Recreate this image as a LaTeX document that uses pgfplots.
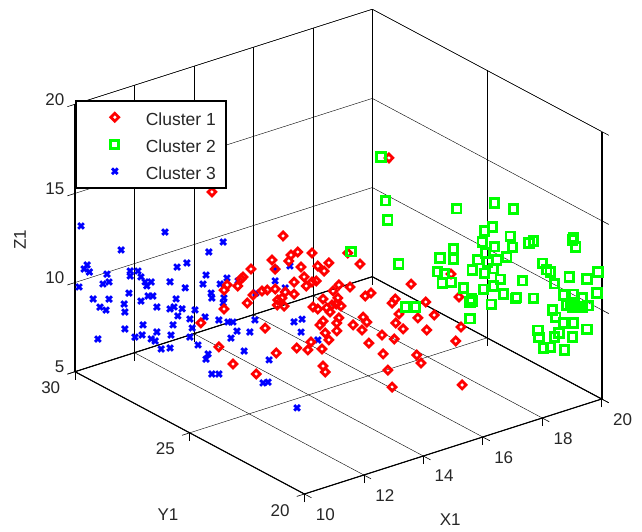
\documentclass[border=0pt]{standalone}
\usepackage{fontspec}
\setmainfont{Liberation Sans}
\usepackage{pgfplots}
\pgfplotsset{compat=1.18}
\pgfplotsset{
  redm/.style={only marks,mark=diamond,mark size=3.9pt,draw=red,mark options={draw=red,fill=none,solid,line width=2.8pt,xscale=1.33}},
  greenm/.style={only marks,mark=square,mark size=4.1pt,draw=green,mark options={draw=green,fill=none,solid,line width=2.9pt}},
  bluem/.style={only marks,mark=x,mark size=4pt,draw=blue,mark options={draw=blue,solid,line width=2.8pt}},
  legsym/.style={legend image code/.code={\draw[##1] plot coordinates {(31pt,0pt)};\path[draw=none,fill=none] (0pt,-3pt) rectangle (60pt,3pt);}},
}
\begin{document}
\begin{tikzpicture}[x=1pt,y=1pt]
\begin{axis}[
  x={(29.73pt,9.5pt)}, y={(-22.94pt,12.23pt)}, z={(0pt,17.83pt)},
  xmin=10,xmax=20,ymin=20,ymax=30,zmin=5,zmax=20,
  clip=false,
  xtick={10,12,14,16,18,20}, ytick={20,25,30}, ztick={5,10,15,20},
  tick pos=left,
  grid=major,
  grid style={black,line width=0.4pt},
  axis line style={black,line width=0.5pt},
  tick style={black,line width=0.6pt},
  tick align=outside,
  major tick length=8pt,
  /pgf/number format/assume math mode=true,
  tick label style={font=\fontsize{17}{20}\selectfont,text=black!85},
  x tick label style={xshift=7pt,yshift=-5pt},
  y tick label style={xshift=-8pt,yshift=-2pt},
  xlabel={X1},ylabel={Y1},zlabel={Z1},
  every axis x label/.style={at={(axis cs:12.04,16.29,5)},anchor=center,font=\fontsize{17}{20}\selectfont,text=black!85},
  every axis y label/.style={at={(axis cs:6.30,21.15,5)},anchor=center,font=\fontsize{17}{20}\selectfont,text=black!85},
  every axis z label/.style={at={(axis cs:14.04,37.63,5)},anchor=center,rotate=90,font=\fontsize{17}{20}\selectfont,text=black!85},
  legend style={at={(0,0.813)},anchor=north west,draw=black,line width=1.7pt,fill=white,
    font=\fontsize{17.5}{20}\selectfont,text=black!85,row sep=7pt,inner xsep=8pt,inner ysep=6.5pt,
    nodes={text height=16pt,text depth=0pt}},
  legend cell align=left,
]
\coordinate (O) at (axis cs:10,30,5);
\draw[line width=1.1pt] (axis cs:10,30,5)--(axis cs:10,20,5)--(axis cs:20,20,5)--(axis cs:20,30,5)--cycle;
\draw[line width=1.1pt] (axis cs:10,30,5)--(axis cs:10,30,20);
\addlegendimage{redm,legsym}
\addlegendentry{Cluster 1}
\addlegendimage{greenm,legsym}
\addlegendentry{Cluster 2}
\addlegendimage{bluem,legsym}
\addlegendentry{Cluster 3}
% Cluster 3
\addplot3[forget plot,bluem] table {
x y z
10.08 29.84 13.24
11.19 27.62 13.83
10.61 28.78 12.34
11.96 26.08 13.92
11.77 26.46 13.20
11.35 27.30 12.00
11.48 27.04 12.34
10.16 29.68 11.12
10.12 29.76 10.86
10.19 29.62 10.75
10.42 29.15 10.83
10.73 28.54 11.26
10.83 28.33 11.35
10.73 28.54 10.98
10.87 28.25 11.05
11.73 26.53 11.88
12.01 25.98 11.94
11.26 27.49 11.09
11.69 26.61 11.34
10.37 29.26 10.23
10.45 29.10 10.41
10.93 28.15 10.81
11.01 27.99 10.87
10.95 28.10 10.61
10.05 29.89 9.80
11.46 27.09 10.92
11.92 26.16 11.53
10.71 28.57 10.01
11.80 26.40 10.92
10.97 28.07 10.05
11.03 27.94 10.11
10.24 29.52 9.28
10.45 29.10 9.45
11.81 26.38 10.65
10.87 28.25 9.70
11.34 27.33 10.20
11.96 26.08 10.50
10.65 28.70 9.34
10.33 29.34 8.90
10.41 29.18 8.80
10.66 28.68 8.90
11.08 27.83 9.54
11.26 27.49 9.57
11.31 27.38 9.73
11.42 27.17 9.71
11.36 27.28 9.27
11.59 26.83 9.79
11.52 26.96 9.23
11.72 26.56 9.51
11.90 26.19 9.50
12.02 25.95 9.49
12.09 25.82 9.54
11.30 27.41 8.71
10.90 28.20 8.38
11.55 26.90 8.75
10.66 28.68 7.95
11.08 27.83 8.14
10.79 28.41 7.61
10.89 28.23 7.80
11.27 27.46 8.12
11.52 26.96 8.22
10.30 29.39 7.09
11.01 27.99 7.68
11.06 27.88 7.61
11.63 26.75 7.86
11.26 27.49 7.38
11.14 27.72 7.23
11.76 26.48 7.47
11.73 26.53 7.16
11.81 26.38 6.39
11.90 26.19 6.47
12.24 25.53 8.03
12.06 25.87 8.62
12.14 25.71 9.08
12.31 25.37 9.17
12.57 24.87 7.81
12.49 25.03 6.45
12.55 24.89 6.56
12.94 24.13 5.43
12.90 24.21 10.22
13.00 23.99 10.47
12.99 24.02 9.73
13.21 23.57 9.48
12.38 25.24 9.90
11.97 26.06 10.79
12.65 24.71 12.31
12.78 24.44 12.03
12.65 24.71 12.98
12.84 24.31 13.32
12.39 25.21 11.42
12.16 25.69 11.90
};
% Cluster 1
\addplot3[forget plot,redm] table {
x y z
12.60 27.40 15.48
15.96 24.04 17.90
13.95 26.05 13.22
13.74 26.26 11.84
13.34 26.66 11.27
13.80 26.20 11.34
14.10 25.90 12.17
14.06 25.94 11.83
14.23 25.77 12.36
14.50 25.50 12.35
14.29 25.71 11.53
14.61 25.39 11.63
14.82 25.18 11.84
14.73 25.27 11.37
13.19 26.81 10.80
13.15 26.85 10.68
13.09 26.91 10.28
12.89 27.11 10.31
12.83 27.17 10.01
13.27 26.73 9.35
13.38 26.62 9.82
13.55 26.45 10.07
13.65 26.35 10.14
13.80 26.20 10.22
14.16 25.84 10.66
14.35 25.65 10.98
14.39 25.61 10.48
14.50 25.50 10.72
14.58 25.42 10.79
13.99 26.01 10.08
14.16 25.84 9.99
13.93 26.07 9.73
13.84 26.16 9.33
13.97 26.03 9.29
13.85 26.15 9.61
12.83 27.17 8.95
12.39 27.61 8.10
12.73 27.27 6.81
13.00 27.00 5.89
13.44 26.56 5.40
13.61 26.39 8.00
13.82 26.18 6.63
14.21 25.79 6.97
14.42 25.58 6.90
14.48 25.52 7.35
14.69 25.31 6.99
14.71 25.29 6.04
14.75 25.25 5.71
15.01 24.99 10.63
15.22 24.78 10.55
14.90 25.10 10.28
14.71 25.29 9.80
14.99 25.01 9.90
14.96 25.04 9.55
14.88 25.12 9.49
15.05 24.95 9.46
14.52 25.48 9.32
14.61 25.39 9.22
14.78 25.22 9.31
14.84 25.16 9.09
15.01 24.99 8.78
14.97 25.03 8.49
14.71 25.29 8.56
14.65 25.35 8.33
14.97 25.03 8.05
14.75 25.25 7.90
14.82 25.18 7.52
15.41 24.59 11.87
15.18 24.82 12.45
15.51 24.49 10.09
15.62 24.38 10.27
16.38 23.62 10.89
16.08 23.92 10.01
16.02 23.98 9.77
16.66 23.34 9.93
16.82 23.18 9.22
16.15 23.85 9.18
16.09 23.91 8.66
16.51 23.49 9.01
16.23 23.77 8.35
16.68 23.32 8.36
17.33 22.67 8.63
17.29 22.71 10.31
17.23 22.77 7.83
15.28 24.72 8.43
15.47 24.53 8.90
15.45 24.55 8.17
15.54 24.46 8.63
15.83 24.17 7.95
16.06 23.94 7.76
15.58 24.42 7.46
15.85 24.15 6.89
16.49 23.51 6.93
16.57 23.43 6.49
15.94 24.06 6.00
16.02 23.98 5.06
17.35 22.65 5.38
17.14 22.86 11.57
};
% Cluster 2
\addplot3[forget plot,greenm] table {
x y z
15.81 24.19 17.93
15.89 24.11 15.48
15.94 24.06 14.42
17.25 22.75 15.24
17.97 22.03 15.68
18.32 21.68 15.40
15.24 24.76 12.52
16.15 23.85 11.98
17.92 22.08 14.33
17.78 22.22 14.08
18.26 21.74 13.87
17.73 22.27 13.46
17.97 22.03 13.22
18.30 21.70 13.26
18.62 21.38 13.54
18.70 21.30 13.66
19.46 20.54 14.00
19.44 20.56 13.83
19.51 20.49 13.45
17.18 22.82 12.98
16.93 23.07 12.44
17.18 22.82 12.42
17.80 22.20 12.85
18.20 21.80 12.69
17.65 22.35 12.44
18.01 21.99 12.49
17.84 22.16 12.35
18.87 21.13 12.45
18.96 21.04 12.08
19.02 20.98 11.97
17.94 22.06 11.98
17.54 22.46 11.86
17.78 22.22 11.72
16.89 23.11 11.65
17.02 22.98 11.56
17.14 22.86 11.12
16.97 23.03 11.04
19.38 20.62 11.75
19.93 20.07 12.11
19.72 20.28 11.69
18.07 21.93 11.43
18.49 21.51 11.39
17.94 22.06 11.02
19.11 20.89 11.32
17.37 22.63 10.82
17.75 22.25 10.82
17.52 22.48 10.23
18.13 21.87 10.60
18.39 21.61 10.47
18.70 21.30 10.46
19.27 20.73 10.72
19.46 20.54 10.80
19.64 20.36 10.61
19.91 20.09 10.93
17.50 22.50 10.06
17.90 22.10 10.00
19.34 20.66 10.17
19.44 20.56 10.07
19.53 20.47 10.09
19.63 20.37 10.10
19.74 20.26 10.18
19.06 20.94 9.85
19.13 20.87 9.46
19.28 20.72 9.15
19.46 20.54 9.18
17.50 22.50 9.11
19.72 20.28 8.88
18.79 21.21 8.68
19.19 20.81 8.58
19.11 20.89 8.34
19.44 20.56 8.39
18.81 21.19 8.29
19.02 20.98 7.76
18.89 21.11 7.69
19.30 20.70 7.64
16.27 23.73 9.59
16.47 23.53 9.62
18.37 21.63 10.41
19.40 20.60 10.23
19.49 20.51 10.14
17.54 22.46 10.12
};
\end{axis}
\pgfresetboundingbox
\path[use as bounding box,shift={(O)}] (-75pt,-160.3pt) rectangle (567pt,371.7pt);
\end{tikzpicture}
\end{document}
